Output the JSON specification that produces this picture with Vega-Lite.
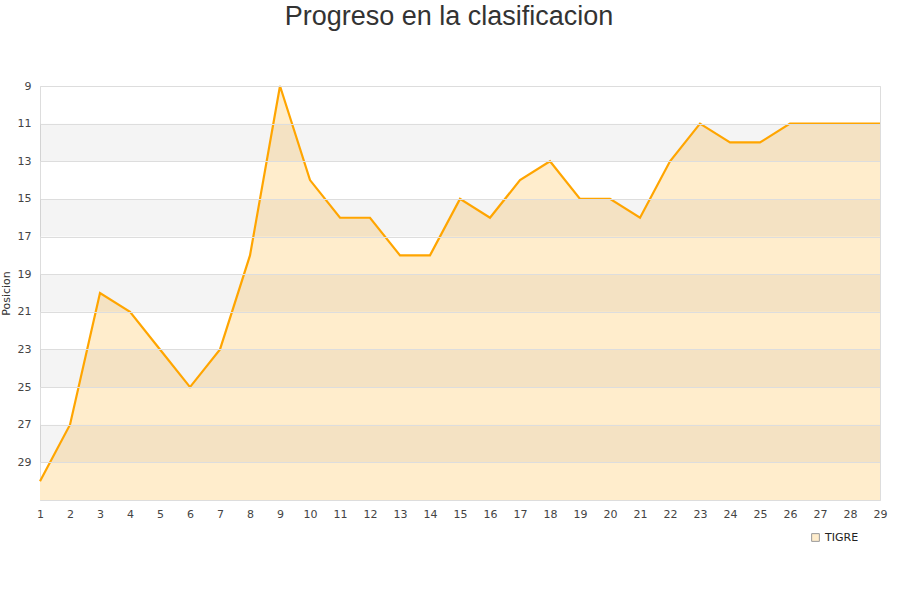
{
  "$schema": "https://vega.github.io/schema/vega-lite/v6.json",
  "width": 840,
  "height": 414,
  "autosize": "none",
  "padding": {"left": 40, "top": 86, "right": 20, "bottom": 100},
  "background": "white",
  "title": {"text": "Progreso en la clasificacion", "fontSize": 27, "font": "Liberation Sans", "fontWeight": "normal", "color": "#333333", "anchor": "middle", "dx": -11, "offset": 49, "baseline": "top"},
  "datasets": {
    "pos": [
      {"jornada": 1, "posicion": 30, "equipo": "TIGRE"},
      {"jornada": 2, "posicion": 27, "equipo": "TIGRE"},
      {"jornada": 3, "posicion": 20, "equipo": "TIGRE"},
      {"jornada": 4, "posicion": 21, "equipo": "TIGRE"},
      {"jornada": 5, "posicion": 23, "equipo": "TIGRE"},
      {"jornada": 6, "posicion": 25, "equipo": "TIGRE"},
      {"jornada": 7, "posicion": 23, "equipo": "TIGRE"},
      {"jornada": 8, "posicion": 18, "equipo": "TIGRE"},
      {"jornada": 9, "posicion": 9, "equipo": "TIGRE"},
      {"jornada": 10, "posicion": 14, "equipo": "TIGRE"},
      {"jornada": 11, "posicion": 16, "equipo": "TIGRE"},
      {"jornada": 12, "posicion": 16, "equipo": "TIGRE"},
      {"jornada": 13, "posicion": 18, "equipo": "TIGRE"},
      {"jornada": 14, "posicion": 18, "equipo": "TIGRE"},
      {"jornada": 15, "posicion": 15, "equipo": "TIGRE"},
      {"jornada": 16, "posicion": 16, "equipo": "TIGRE"},
      {"jornada": 17, "posicion": 14, "equipo": "TIGRE"},
      {"jornada": 18, "posicion": 13, "equipo": "TIGRE"},
      {"jornada": 19, "posicion": 15, "equipo": "TIGRE"},
      {"jornada": 20, "posicion": 15, "equipo": "TIGRE"},
      {"jornada": 21, "posicion": 16, "equipo": "TIGRE"},
      {"jornada": 22, "posicion": 13, "equipo": "TIGRE"},
      {"jornada": 23, "posicion": 11, "equipo": "TIGRE"},
      {"jornada": 24, "posicion": 12, "equipo": "TIGRE"},
      {"jornada": 25, "posicion": 12, "equipo": "TIGRE"},
      {"jornada": 26, "posicion": 11, "equipo": "TIGRE"},
      {"jornada": 27, "posicion": 11, "equipo": "TIGRE"},
      {"jornada": 28, "posicion": 11, "equipo": "TIGRE"},
      {"jornada": 29, "posicion": 11, "equipo": "TIGRE"}
    ],
    "bands": [
      {"desde": 11, "hasta": 13},
      {"desde": 15, "hasta": 17},
      {"desde": 19, "hasta": 21},
      {"desde": 23, "hasta": 25},
      {"desde": 27, "hasta": 29}
    ]
  },
  "config": {
    "view": {"stroke": "#dddddd", "strokeWidth": 1},
    "axis": {"labelOverlap": false, "labelFont": "DejaVu Sans", "labelFontSize": 11, "labelColor": "#444444", "titleFont": "DejaVu Sans", "titleFontSize": 11, "titleFontWeight": "normal", "titleColor": "#333333"}
  },
  "layer": [
    {
      "data": {"name": "pos"},
      "mark": {"type": "area", "opacity": 1, "interpolate": "linear"},
      "encoding": {
        "x": {"field": "jornada", "type": "quantitative", "scale": {"domain": [1, 29], "nice": false}, "axis": {"values": [1,2,3,4,5,6,7,8,9,10,11,12,13,14,15,16,17,18,19,20,21,22,23,24,25,26,27,28,29], "tickCount": 29, "title": null, "grid": false, "ticks": false, "labelPadding": 8, "domainColor": "#dddddd", "labelFlush": false, "labelOverlap": false, "labelSeparation": 0, "format": "d"}},
        "y": {"field": "posicion", "type": "quantitative", "scale": {"domain": [9, 31], "reverse": true, "nice": false, "zero": false}, "axis": {"values": [9,11,13,15,17,19,21,23,25,27,29], "title": "Posicion", "titlePadding": 6, "ticks": false, "domain": false, "labelPadding": 9, "grid": true, "gridColor": "#dddddd", "zindex": 1, "labelFlush": false, "labelOverlap": false}},
        "y2": {"datum": 31},
        "fill": {"field": "equipo", "type": "nominal", "scale": {"range": ["#ffedcc"]}, "legend": {"title": null, "orient": "none", "legendX": 770, "legendY": 446, "symbolType": "square", "symbolSize": 60, "symbolStrokeColor": "#999999", "symbolStrokeWidth": 1, "labelFont": "DejaVu Sans", "labelFontSize": 11, "labelColor": "#222222"}}
      }
    },
    {
      "data": {"name": "bands"},
      "mark": {"type": "rect", "color": "#000000", "opacity": 0.045},
      "encoding": {
        "y": {"field": "desde", "type": "quantitative"},
        "y2": {"field": "hasta"}
      }
    },
    {
      "data": {"name": "pos"},
      "mark": {"type": "line", "color": "#ffa500", "strokeWidth": 2.2},
      "encoding": {
        "x": {"field": "jornada", "type": "quantitative", "axis": {"values": [1,2,3,4,5,6,7,8,9,10,11,12,13,14,15,16,17,18,19,20,21,22,23,24,25,26,27,28,29], "tickCount": 29, "title": null, "grid": false, "ticks": false, "labelPadding": 8, "domainColor": "#dddddd", "labelFlush": false, "labelOverlap": false, "labelSeparation": 0, "format": "d"}},
        "y": {"field": "posicion", "type": "quantitative"}
      }
    }
  ]
}
